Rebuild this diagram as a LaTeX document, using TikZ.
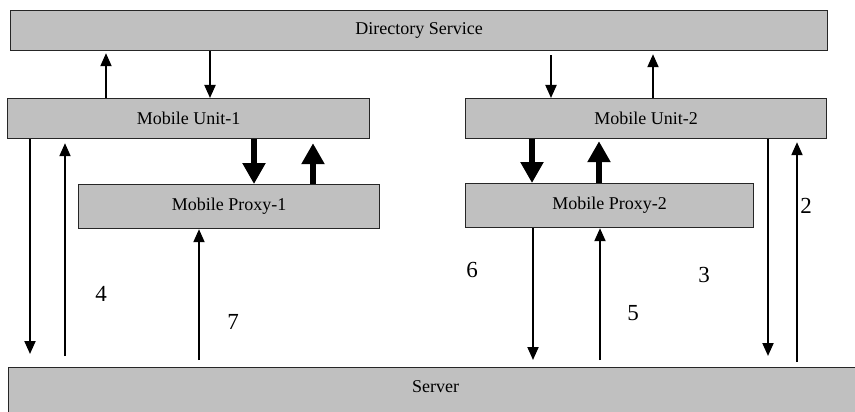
\documentclass[tikz,border=0pt]{standalone}
\usepackage{fontspec}
\setmainfont{Liberation Serif}
\usetikzlibrary{arrows.meta}

\definecolor{boxgray}{RGB}{192,192,192}

\begin{document}
\begin{tikzpicture}[x=1pt, y=-1pt,
                    boxnode/.style={rectangle, draw=black!85, line width=1.2pt, fill=boxgray, anchor=north west, inner sep=0pt, font=\fontsize{18}{20}\selectfont},
                    numnode/.style={inner sep=0pt, font=\fontsize{23}{25}\selectfont},
                    thinarrow/.style={line width=2pt, -{Triangle[width=11pt,length=13pt]}},
                    thickarrow/.style={line width=6pt, -{Triangle[width=22pt,length=21pt]}},
                   ]
  \clip (0,0) rectangle (855,412);
  \fill[white] (0,0) rectangle (855,412);

  % Nodes
  \node[boxnode, minimum width=817pt, minimum height=40pt] (directory) at (10,10)  {Directory Service};
  \node[boxnode, minimum width=362pt, minimum height=40pt] (unit_1)    at (7,98)   {Mobile Unit-1};
  \node[boxnode, minimum width=361pt, minimum height=40pt] (unit_2)    at (465,98) {Mobile Unit-2};
  \node[boxnode, minimum width=301pt, minimum height=44pt] (proxy_1)   at (78,184) {Mobile Proxy-1};
  \node[boxnode, minimum width=288pt, minimum height=44pt] (proxy_2)   at (465,183) {Mobile Proxy-2};
  \node[boxnode, minimum width=854pt, minimum height=60pt, text depth=22pt] (server) at (8,367) {Server};

  \node[numnode] (num_2) at (806,206) {2};
  \node[numnode] (num_6) at (472,270) {6};
  \node[numnode] (num_3) at (704,275) {3};
  \node[numnode] (num_4) at (101,294) {4};
  \node[numnode] (num_7) at (233,322) {7};
  \node[numnode] (num_5) at (633,313) {5};

  %Lines
  \draw[thinarrow] ([xshift=99]unit_1.north west) -- ([xshift=96,yshift=-2]directory.south west);
  \draw[thinarrow] ([xshift=200]directory.south west) -- ([xshift=203]unit_1.north west);
  \draw[thinarrow] ([xshift=541,yshift=-4]directory.south west) -- ([xshift=86]unit_2.north west);
  \draw[thinarrow] ([xshift=188]unit_2.north west) -- ([xshift=643,yshift=-3]directory.south west);

  \draw[thickarrow] ([xshift=247]unit_1.south west) -- ([xshift=176]proxy_1.north west);
  \draw[thickarrow] ([xshift=235]proxy_1.north west) -- ([xshift=306,yshift=-4]unit_1.south west);
  \draw[thickarrow] ([xshift=67]unit_2.south west) -- ([xshift=67]proxy_2.north west);
  \draw[thickarrow] ([xshift=134]proxy_2.north west) -- ([xshift=134,yshift=-2]unit_2.south west);

  \draw[thinarrow] ([xshift=23]unit_1.south west) -- ([xshift=22,yshift=13]server.north west);
  \draw[thinarrow] ([xshift=57,yshift=11]server.north west) -- ([xshift=58,yshift=-4]unit_1.south west);
  \draw[thinarrow] ([xshift=191,yshift=7]server.north west) -- ([xshift=121]proxy_1.south west);
  \draw[thinarrow] ([xshift=68]proxy_2.south west) -- ([xshift=525,yshift=7]server.north west);
  \draw[thinarrow] ([xshift=592,yshift=7]server.north west) -- ([xshift=135]proxy_2.south west);
  \draw[thinarrow] ([xshift=303]unit_2.south west) -- ([xshift=760,yshift=11]server.north west);
  \draw[thinarrow] ([xshift=789,yshift=5]server.north west) -- ([xshift=332,yshift=-3]unit_2.south west);
\end{tikzpicture}
\end{document}
